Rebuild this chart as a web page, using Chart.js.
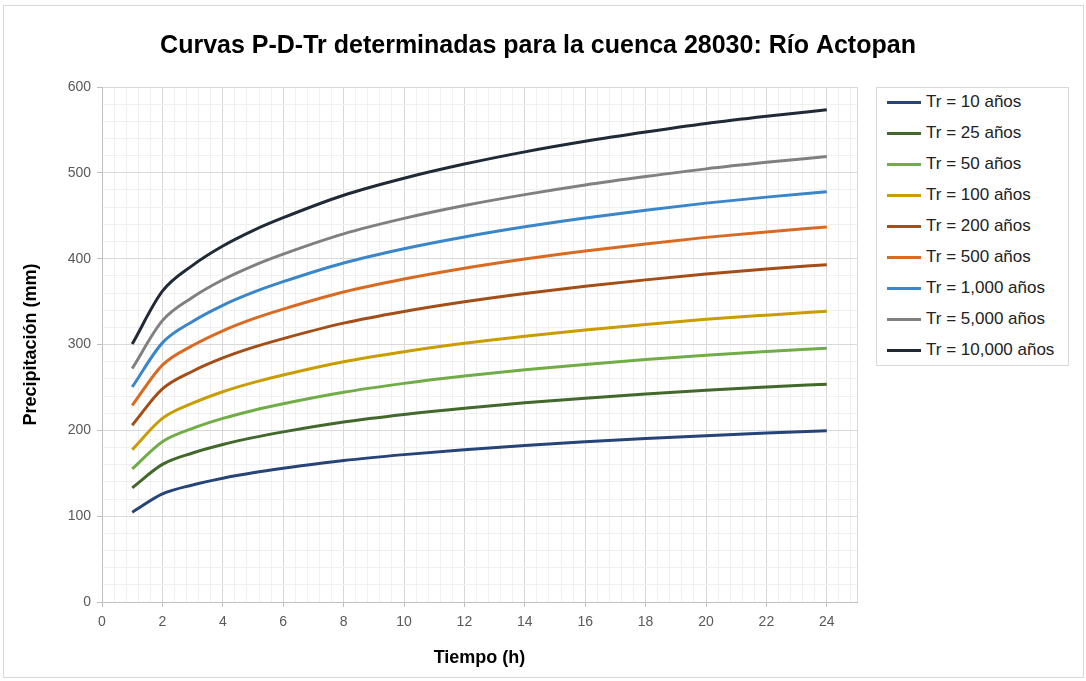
<!DOCTYPE html>
<html>
<head>
<meta charset="utf-8">
<script src="https://cdn.jsdelivr.net/npm/chart.js@4.4.1/dist/chart.umd.min.js"></script>
<style>
body { margin: 0; background: #fff; font-family: "Liberation Sans", Arial, sans-serif; }
#wrap { position: relative; width: 1086px; height: 681px; }
#frame { position: absolute; left: 3px; top: 5px; width: 1079px; height: 671px; border: 1px solid #d9d9d9; }
#chart { position: absolute; left: 0; top: 0; }
#legend { position: absolute; left: 876px; top: 87px; width: 191px; height: 277px; border: 1px solid #d9d9d9; background: #fff; }
.item { position: absolute; left: 10px; height: 20px; display: flex; align-items: center; font-size: 17px; color: #222; white-space: nowrap; }
.sw { width: 34px; height: 3px; margin-right: 5px; }
</style>
</head>
<body>
<div id="wrap">
  <div id="frame"></div>
  <canvas id="chart" width="1086" height="681"></canvas>
  <div id="legend"></div>
</div>
<script>
// duracion (h)
const hours = [1, 2, 3, 4, 5, 6, 8, 10, 12, 14, 16, 18, 20, 22, 24];

// precipitacion (mm) por periodo de retorno
const tr10 = [104.5, 125.9, 136.4, 144.2, 150.5, 155.7, 164.8, 171.7, 177.4, 182.4, 186.6, 190.4, 193.8, 196.8, 199.4];
const tr25 = [133, 160.3, 173.6, 183.5, 191.5, 198.2, 209.7, 218.5, 225.8, 232.1, 237.5, 242.3, 246.7, 250.4, 253.8];
const tr50 = [155, 186.8, 202.3, 213.9, 223.2, 231.0, 244.4, 254.7, 263.2, 270.5, 276.8, 282.4, 287.5, 291.9, 295.7];
const tr100 = [177.5, 213.9, 231.6, 245.0, 255.6, 264.5, 279.9, 291.6, 301.4, 309.7, 317.0, 323.4, 329.3, 334.2, 338.7];
const tr200 = [206, 248.2, 268.8, 284.3, 296.6, 306.9, 324.9, 338.5, 349.8, 359.5, 367.9, 375.3, 382.1, 387.9, 393.0];
const tr500 = [229, 276.0, 298.8, 316.0, 329.8, 341.2, 361.1, 376.2, 388.8, 399.6, 409.0, 417.2, 424.8, 431.2, 436.9];
const tr1000 = [250.5, 301.9, 326.9, 345.7, 360.7, 373.2, 395.0, 411.6, 425.3, 437.1, 447.4, 456.4, 464.7, 471.7, 478.0];
const tr5000 = [272, 327.8, 355.0, 375.4, 391.7, 405.3, 428.9, 446.9, 461.9, 474.6, 485.8, 495.6, 504.6, 512.2, 519.0];
const tr10000 = [300.5, 362.1, 392.2, 414.7, 432.7, 447.7, 473.9, 493.7, 510.2, 524.4, 536.7, 547.5, 557.4, 565.8, 573.4];

const seriesNames = ["Tr = 10 años", "Tr = 25 años", "Tr = 50 años", "Tr = 100 años", "Tr = 200 años",
    "Tr = 500 años", "Tr = 1,000 años", "Tr = 5,000 años", "Tr = 10,000 años"];
const seriesData = [tr10, tr25, tr50, tr100, tr200, tr500, tr1000, tr5000, tr10000];
const seriesColors = ["#264478", "#43682B", "#70AD47", "#C99C00", "#A34E17",
    "#D96A22", "#3A86C8", "#808080", "#1F2A36"];

const FONT = "'Liberation Sans', Arial, sans-serif";

const datasets = seriesData.map((arr, i) => ({
    label: seriesNames[i],
    data: hours.map((h, j) => ({ x: h, y: arr[j] })),
    borderColor: seriesColors[i],
    backgroundColor: seriesColors[i],
    borderWidth: 3,
    pointRadius: 0,
    cubicInterpolationMode: "monotone",
    fill: false,
}));

const isMajorX = v => v === 25 || Math.abs(v / 2 - Math.round(v / 2)) < 1e-9;
const isMajorY = v => v % 100 === 0;

var ctx = document.getElementById("chart").getContext("2d");
var chart = new Chart(ctx, {
    type: "line",
    data: { datasets: datasets },
    options: {
        responsive: false,
        animation: false,
        layout: { padding: { left: 0, right: 10, top: 0, bottom: 0 } },
        plugins: {
            legend: { display: false },
            tooltip: { enabled: false },
            title: {
                display: true,
                text: "Curvas P-D-Tr determinadas para la cuenca 28030: Río Actopan",
                color: "#000",
                font: { family: FONT, size: 25, weight: "bold" },
                padding: { top: 31, bottom: 26 },
            },
        },
        scales: {
            x: {
                type: "linear",
                min: 0,
                max: 25,
                afterBuildTicks: s => {
                    const t = [];
                    for (let i = 0; i <= 62; i++) t.push({ value: Math.round(i * 4) / 10 });
                    t.push({ value: 25 });
                    s.ticks = t;
                },
                afterFit: s => { s.height = 79; },
                ticks: {
                    autoSkip: false,
                    maxRotation: 0,
                    padding: 7,
                    color: "#595959",
                    font: { family: FONT, size: 14 },
                    callback: v => (v <= 24 && Math.abs(v / 2 - Math.round(v / 2)) < 1e-9) ? Math.round(v) : "",
                },
                grid: {
                    color: c => isMajorX(c.tick.value) ? "#d9d9d9" : "#f0f0f0",
                    tickColor: c => (isMajorX(c.tick.value) && c.tick.value !== 25) ? "#bfbfbf" : "rgba(0,0,0,0)",
                    tickLength: 5,
                },
                border: { color: "#bfbfbf" },
                title: {
                    display: true,
                    text: "Tiempo (h)",
                    color: "#000",
                    font: { family: FONT, size: 18, weight: "bold" },
                    padding: { top: 0, bottom: 12 },
                },
            },
            y: {
                type: "linear",
                min: 0,
                max: 600,
                afterBuildTicks: s => {
                    const t = [];
                    for (let v = 0; v <= 600; v += 20) t.push({ value: v });
                    s.ticks = t;
                },
                afterFit: s => { s.width = 102; },
                ticks: {
                    autoSkip: false,
                    padding: 6,
                    color: "#595959",
                    font: { family: FONT, size: 14 },
                    callback: v => isMajorY(v) ? v : "",
                },
                grid: {
                    color: c => isMajorY(c.tick.value) ? "#d9d9d9" : "#f0f0f0",
                    tickColor: c => isMajorY(c.tick.value) ? "#bfbfbf" : "rgba(0,0,0,0)",
                    tickLength: 5,
                },
                border: { color: "#bfbfbf" },
                title: {
                    display: true,
                    text: "Precipitación (mm)",
                    color: "#000",
                    font: { family: FONT, size: 18, weight: "bold" },
                    padding: { top: 20, bottom: 0 },
                },
            },
            // espacio reservado para la leyenda
            yr: {
                type: "linear",
                position: "right",
                display: true,
                grid: { display: false, drawOnChartArea: false },
                border: { display: false },
                ticks: { display: false },
                afterFit: s => { s.width = 219; },
            },
        },
    },
});

// leyenda
const legend = document.getElementById("legend");
seriesNames.forEach((name, i) => {
    const item = document.createElement("div");
    item.className = "item";
    item.style.top = (4 + 31 * i) + "px";
    const sw = document.createElement("span");
    sw.className = "sw";
    sw.style.background = seriesColors[i];
    const txt = document.createElement("span");
    txt.textContent = name;
    item.appendChild(sw);
    item.appendChild(txt);
    legend.appendChild(item);
});
</script>
</body>
</html>
